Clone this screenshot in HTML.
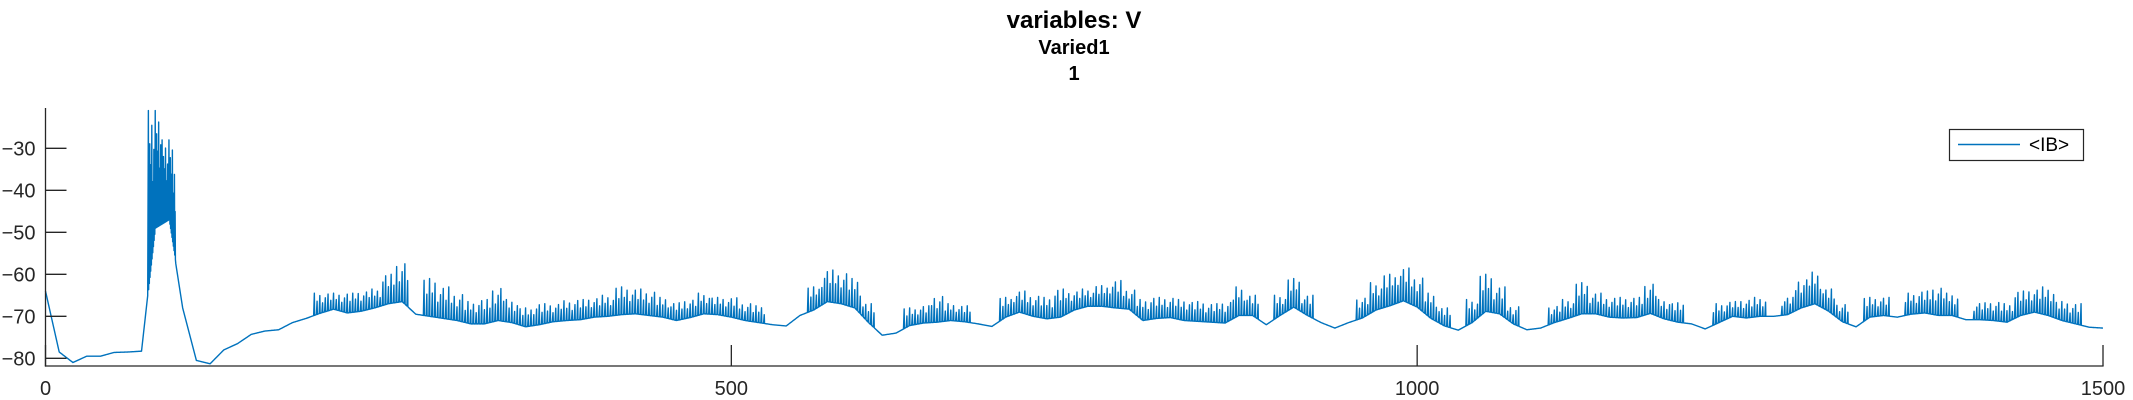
<!DOCTYPE html>
<html><head><meta charset="utf-8"><style>
html,body{margin:0;padding:0;background:#fff;width:2133px;height:400px;overflow:hidden}
svg{display:block;font-family:"Liberation Sans",sans-serif}
</style></head><body>
<svg id="chart" width="2133" height="400" viewBox="0 0 2133 400" xmlns="http://www.w3.org/2000/svg">
<g fill="#000" font-weight="bold" text-anchor="middle">
<text x="1074" y="28" font-size="24">variables: V</text>
<text x="1074" y="54" font-size="20">Varied1</text>
<text x="1074" y="80" font-size="20">1</text>
</g>
<g id="plot"></g>
<g id="axes"></g>
<g>
<rect x="1949.5" y="129.5" width="134" height="31" fill="#fff" stroke="#262626" stroke-width="1.2"/>
<line x1="1958" y1="144.5" x2="2020" y2="144.5" stroke="#0072BD" stroke-width="1.5"/>
<text x="2029" y="151" font-size="19" fill="#000">&lt;IB&gt;</text>
</g>
</svg>
<script>
// x sample positions every 10 units (0..1500)
const xStep = 10;
const baseV = [
-64,-78.5,-81,-79.5,-79.5,-78.6,-78.5,-78.3,-49,-47,
-68,-80.5,-81.3,-78,-76.5,-74.3,-73.5,-73.2,-71.5,-70.5,
-69.3,-68.3,-69.2,-68.8,-68,-67,-66.5,-69.5,-70,-70.5,
-71,-71.8,-71.8,-71,-71.5,-72.5,-72,-71.3,-71,-70.8,
-70.2,-70,-69.6,-69.4,-69.8,-70.2,-71,-70.3,-69.4,-69.6,
-70.2,-71,-71.5,-72,-72.3,-69.8,-68.5,-66.5,-67,-68,
-71.5,-74.5,-74,-72.2,-71.6,-71.4,-71,-71.3,-71.8,-72.4,
-70.2,-69,-70,-70.6,-70.2,-68.5,-67.6,-67.6,-68,-68.3,
-71,-70.5,-70.3,-71,-71.2,-71.4,-71.6,-69.8,-69.8,-72,
-69.8,-67.8,-69.8,-71.5,-72.8,-71.5,-70.4,-68.5,-67.5,-66.3,
-67.8,-70.5,-72.3,-73.3,-71.5,-68.8,-69.4,-71.8,-73.2,-72.8,
-71.5,-70.5,-69.4,-69.4,-70.2,-70.4,-70.3,-69.3,-70.6,-71.4,
-71.8,-73,-71.5,-70,-70.4,-70,-70,-69.6,-68,-67,
-68.8,-71.3,-72.5,-70.2,-69.8,-70.2,-69.5,-69.2,-69.8,-69.8,
-70.8,-70.8,-71,-71.4,-69.8,-69,-69.8,-71,-71.8,-72.6,
-72.8];
// spike peak values per bin (null = no spiking)
const spikeTop = [
null,null,null,null,null,null,null,null,-21,-28,
null,null,null,null,null,null,null,null,null,null,
-64.5,-64.5,-64.5,-64,-63.5,-60,-57,null,-61,-63,
-64.5,-66.5,-66,-63,-66,-68,-67,-67,-66.3,-66,
-65.6,-65,-63,-63.5,-64,-65.5,-66.8,-66,-64.5,-65.5,
-65.6,-66.8,-67.5,null,null,null,-63,-59,-59.5,-61,
-67,null,null,-68,-67.5,-65,-67,-67.5,null,null,
-65.5,-64,-65,-65.5,-63.5,-64,-63.5,-62.7,-61.5,-63.5,
-66,-65.5,-65.5,-66,-66.5,-67,-66.5,-63,-65,null,
-65,-61,-65,null,null,null,-65.5,-62,-60,-58.5,
-60.5,-64.5,-68,null,-66,-60,-63,-67.5,null,null,
-67.5,-66,-62,-64.5,-65.5,-65.5,-65.5,-62,-66,-66.8,
null,null,-67,-66.5,-66,-65.5,null,-65.5,-61,-59.5,
-63.5,-67,null,-65.5,-65.5,null,-64.5,-64,-63,-64.5,
null,-66.8,-66.5,-67,-64,-63.5,-63,-66.5,-67,null,
null];
const xTicks = [0,500,1000,1500];
const yTicks = [-80,-70,-60,-50,-40,-30];

const X0=45.5, X1=2103, Y0=366, Y1=108;
const xMin=0,xMax=1500,yMin=-81.83,yMax=-20.4;
const sx=v=>X0+(v-xMin)/(xMax-xMin)*(X1-X0);
const sy=v=>Y0-(v-yMin)/(yMax-yMin)*(Y0-Y1);
const NS="http://www.w3.org/2000/svg";
function baseAt(x){const f=x/xStep;const i=Math.min(Math.floor(f),baseV.length-2);const t=f-i;return baseV[i]*(1-t)+baseV[i+1]*t;}

const pattern=[1,0.62,0.88,0.5,0.75,0.95,0.58];
const burstPattern=[1,0.45,0.8,0.3,0.65,0.9,0.5,0.2,0.7,0.4];
let d="M"+sx(0).toFixed(2)+","+sy(baseV[0]).toFixed(2);
const fine=0.5;
for(let x=fine;x<=xMax+1e-9;x+=fine){
  const i=Math.round(x/xStep);
  const top=spikeTop[i];
  const b=baseAt(x);
  if(top!=null){
    const burst=top>-40;
    const sp=burst?0.5:2;
    const k=Math.round(x/sp);
    if(Math.abs(x-k*sp)<fine/2){
      const pat=burst?burstPattern:pattern;
      const h=b+(top-b)*pat[k%pat.length];
      d+="L"+sx(x).toFixed(2)+","+sy(h).toFixed(2);
      d+="L"+sx(x+0.2).toFixed(2)+","+sy(b).toFixed(2);
      continue;
    }
  }
  d+="L"+sx(x).toFixed(2)+","+sy(b).toFixed(2);
}
const plot=document.getElementById('plot');
const p=document.createElementNS(NS,'path');


p.setAttribute('d',d);p.setAttribute('fill','none');p.setAttribute('stroke','#0072BD');p.setAttribute('stroke-width','1.4');p.setAttribute('stroke-linejoin','round');
plot.appendChild(p);

const axes=document.getElementById('axes');
function ln(x1,y1,x2,y2,name){const l=document.createElementNS(NS,'line');


l.setAttribute('x1',x1);l.setAttribute('y1',y1);l.setAttribute('x2',x2);l.setAttribute('y2',y2);l.setAttribute('stroke','#262626');l.setAttribute('stroke-width','1.3');axes.appendChild(l);}
function tx(x,y,s,anchor,name){const t=document.createElementNS(NS,'text');


t.setAttribute('x',x);t.setAttribute('y',y);t.setAttribute('font-size','20');t.setAttribute('fill','#262626');t.setAttribute('text-anchor',anchor);t.textContent=s;axes.appendChild(t);}
ln(X0,Y1,X0,Y0+0.6,'y-axis-line');
ln(X0-0.6,Y0,X1+0.6,Y0,'x-axis-line');
yTicks.forEach(v=>{const y=sy(v);ln(X0,y,X0+21,y,'y-tick');tx(X0-10,y+7,'\u2212'+Math.abs(v),'end','y-tick-label');});
xTicks.forEach(v=>{const x=sx(v);ln(x,Y0,x,Y0-21,'x-tick');tx(x,Y0+29,String(v),'middle','x-tick-label');});
</script>
</body></html>
